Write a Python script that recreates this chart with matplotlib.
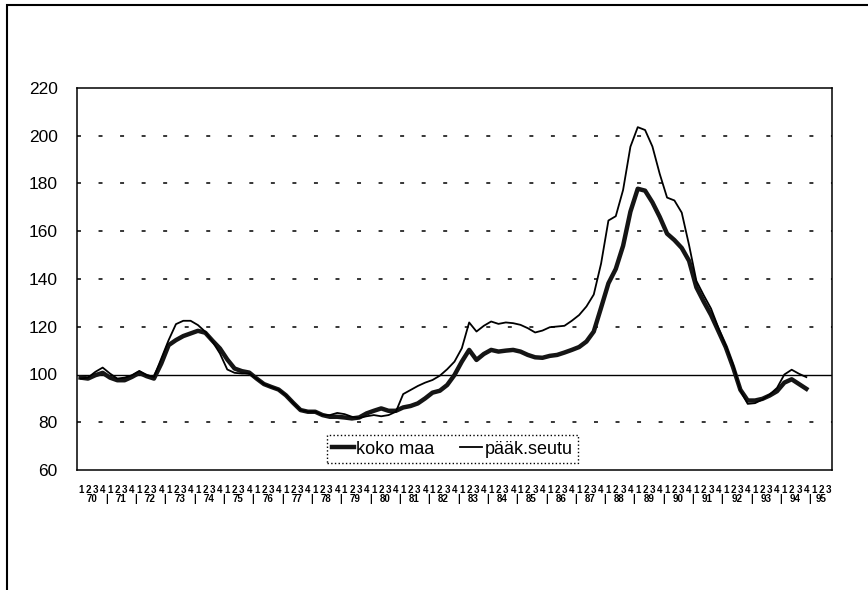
import matplotlib
matplotlib.use("Agg")
import matplotlib.pyplot as plt
from matplotlib.transforms import blended_transform_factory
from matplotlib.patches import Rectangle

plt.rcParams['font.family'] = ['Liberation Sans', 'DejaVu Sans']

# --- data: quarterly index, 1970 Q1 .. 1994 Q4 ---
years = list(range(70, 96))
quarters_per_year = [4] * 25 + [3]          # axis runs to 1995 Q3
quarter_labels = [str(q + 1) for n in quarters_per_year for q in range(n)]

koko_maa = [
    98.7, 98.3, 99.7, 100.7,     # 70
    98.7, 97.6, 97.6, 99.0,      # 71
    100.7, 99.3, 98.3, 104.6,    # 72
    112.3, 114.4, 116.1, 117.2,  # 73
    118.3, 117.5, 114.1, 110.9,  # 74
    106.3, 102.5, 101.4, 100.8,  # 75
    98.3, 96.0, 94.8, 93.7,      # 76
    91.3, 88.1, 85.1, 84.4,      # 77
    84.4, 83.0, 82.3, 82.3,      # 78
    82.0, 81.6, 82.0, 83.7,      # 79
    84.8, 85.8, 84.8, 84.8,      # 80
    86.2, 86.8, 87.9, 90.0,      # 81
    92.4, 93.2, 95.6, 99.8,      # 82
    105.4, 110.3, 106.1, 108.6,  # 83
    110.3, 109.6, 110.0, 110.3,  # 84
    109.6, 108.2, 107.2, 107.0,  # 85
    107.8, 108.2, 109.2, 110.3,  # 86
    111.5, 113.8, 118.0, 128.0,  # 87
    138.2, 144.2, 153.9, 168.2,  # 88
    177.8, 177.0, 172.1, 166.0,  # 89
    159.0, 156.3, 153.0, 147.6,  # 90
    136.5, 130.5, 124.9, 118.2,  # 91
    111.5, 103.1, 93.6, 89.1,    # 92
    89.1, 89.8, 91.2, 93.0,      # 93
    96.6, 98.0, 96.0, 94.0,      # 94
]

paak_seutu = [
    98.3, 98.7, 101.1, 102.9,    # 70
    100.4, 98.3, 98.7, 99.7,     # 71
    101.5, 99.7, 99.0, 106.7,    # 72
    114.4, 121.1, 122.5, 122.5,  # 73
    120.7, 117.9, 113.7, 108.8,  # 74
    102.1, 100.7, 100.4, 100.4,  # 75
    98.3, 96.0, 94.8, 93.7,      # 76
    91.3, 88.1, 85.1, 84.4,      # 77
    84.4, 83.0, 83.0, 83.9,      # 78
    83.4, 82.3, 81.8, 82.5,      # 79
    83.0, 82.5, 83.0, 84.4,      # 80
    91.8, 93.5, 95.2, 96.6,      # 81
    97.7, 99.5, 102.2, 105.4,    # 82
    111.0, 121.8, 118.0, 120.4,  # 83
    122.2, 121.2, 121.8, 121.5,  # 84
    120.8, 119.4, 117.6, 118.4,  # 85
    119.8, 120.1, 120.4, 122.5,  # 86
    124.9, 128.5, 133.5, 146.5,  # 87
    164.5, 166.3, 177.3, 195.4,  # 88
    203.6, 202.4, 195.5, 184.0,  # 89
    174.1, 172.9, 167.8, 154.2,  # 90
    139.2, 133.2, 127.6, 119.6,  # 91
    112.2, 104.2, 93.3, 87.7,    # 92
    88.0, 89.5, 91.6, 94.4,      # 93
    100.0, 102.0, 100.3, 98.9,   # 94
]

y_ticks = [60, 80, 100, 120, 140, 160, 180, 200, 220]
grid_levels = [80, 120, 140, 160, 180, 200]

# --- figure ---
fig = plt.figure(figsize=(8.68, 5.90), dpi=100, facecolor='white')
ax = fig.add_axes([77 / 868, 1 - 470 / 590, 755 / 868, 382 / 590])

n_q = len(quarter_labels)
ax.set_xlim(-0.5, n_q - 0.5)
ax.set_ylim(60, 220)

for v in grid_levels:
    ax.axhline(v, color='black', lw=1.1, ls=(0, (2.6, 11.5)), zorder=1)
ax.axhline(100, color='black', lw=1.0, zorder=1)

xs = range(len(koko_maa))
ax.plot(xs, koko_maa, color='#151515', lw=3.2, label='koko maa', zorder=3)
ax.plot(xs, paak_seutu, color='black', lw=1.3, label='pääk.seutu', zorder=4)

ax.set_yticks(y_ticks)
ax.tick_params(axis='y', length=0, pad=14, labelsize=12.5)
ax.set_xticks(range(n_q))
ax.set_xticklabels(quarter_labels, fontsize=7, fontweight='bold')
ax.tick_params(axis='x', length=0, pad=11)

for s in ax.spines.values():
    s.set_color('black')
    s.set_linewidth(1.1)

# year row under the quarter digits
trans = blended_transform_factory(ax.transData, ax.transAxes)
start = 0
for yr, n in zip(years, quarters_per_year):
    ax.text(start + (n - 1) / 2, -0.077, str(yr), transform=trans,
            ha='center', va='center', fontsize=7, fontweight='bold')
    if start > 0:
        ax.text(start - 0.5, -0.077, '|', transform=trans,
                ha='center', va='center', fontsize=7, fontweight='bold')
    start += n

leg = ax.legend(loc='lower center', bbox_to_anchor=(0.497, 0.018), ncol=2,
                fontsize=13, handlelength=1.2, handletextpad=0.15,
                columnspacing=1.4, borderaxespad=0, fancybox=False,
                borderpad=0.3)
fr = leg.get_frame()
fr.set_edgecolor('black')
fr.set_linestyle(':')
fr.set_linewidth(1.0)
fr.set_alpha(1)

# outer chart-area border (top and left edges visible)
fig.add_artist(Rectangle((7 / 868, -0.1), 1.2, 1.1 - 5 / 590,
                         transform=fig.transFigure, fill=False,
                         lw=1.5, edgecolor='black'))

fig.savefig('out.png', dpi=100)
